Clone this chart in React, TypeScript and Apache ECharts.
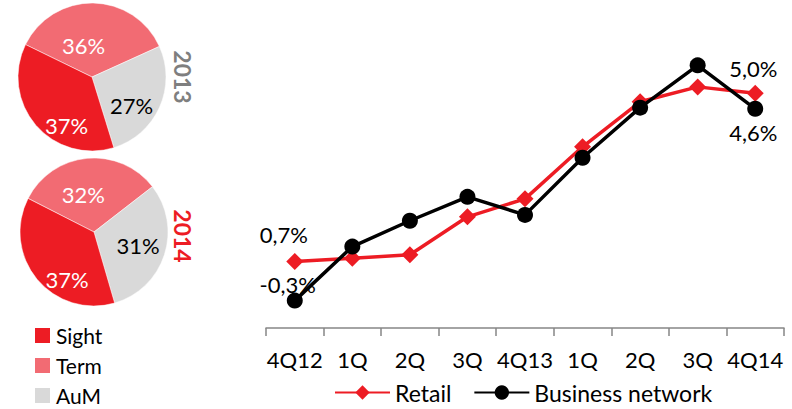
import React, { useEffect, useRef } from "react";
import * as echarts from "echarts";

// Quarterly growth, %
const quarters = ["4Q12", "1Q", "2Q", "3Q", "4Q13", "1Q", "2Q", "3Q", "4Q14"];
const retail = [0.7, 0.78, 0.87, 1.84, 2.3, 3.63, 4.78, 5.16, 5.0];
const businessNetwork = [-0.3, 1.08, 1.74, 2.35, 1.89, 3.35, 4.63, 5.71, 4.6];

// Funding mix, % (slices listed clockwise starting from the top-left edge)
const mixNames = ["Term", "AuM", "Sight"];
const mix2013 = [36, 27, 37];
const mix2014 = [32, 31, 37];
const mixColors: Record<string, string> = { Sight: "#ED1C24", Term: "#F26B73", AuM: "#D9D9D9" };
const mixLabelColors: Record<string, string> = { Sight: "#FFFFFF", Term: "#FFFFFF", AuM: "#000000" };

const FONT = "Lato, 'Open Sans', sans-serif";
const RED = "#ED1C24";

const fmt = (v: number) => v.toFixed(1).replace(".", ",") + "%";

function pieSeries(name: string, values: number[], center: number[], startAngle: number, shifts: number[][]) {
  return {
    type: "pie",
    name,
    center,
    radius: 74,
    startAngle,
    clockwise: true,
    silent: true,
    label: {
      show: true,
      position: "inside",
      fontFamily: FONT,
      fontSize: 22,
      formatter: (p: any) => p.value + "%",
    },
    labelLine: { show: false },
    labelLayout: (p: any) => ({ dx: shifts[p.dataIndex][0], dy: shifts[p.dataIndex][1] }),
    itemStyle: { borderColor: "#ffffff", borderWidth: 0.5 },
    data: values.map((v, i) => ({
      name: mixNames[i],
      value: v,
      itemStyle: { color: mixColors[mixNames[i]] },
      label: { color: mixLabelColors[mixNames[i]] },
    })),
  };
}

function lineData(values: number[], positions: string[], offsets: number[][]) {
  const last = values.length - 1;
  return values.map((v, i) => {
    const k = i === 0 ? 0 : i === last ? 1 : -1;
    return {
      value: v,
      label:
        k >= 0
          ? { show: true, position: positions[k], offset: offsets[k], formatter: () => fmt(v) }
          : { show: false },
    };
  });
}

export default function App() {
  const ref = useRef<HTMLDivElement>(null);

  useEffect(() => {
    if (!ref.current) return;
    const chart = echarts.init(ref.current, undefined, { renderer: "svg" });
    chart.setOption({
      animation: false,
      backgroundColor: "#ffffff",
      textStyle: { fontFamily: FONT },
      legend: [
        {
          orient: "vertical",
          left: 33,
          top: 325,
          height: 100,
          padding: 0,
          icon: "rect",
          itemWidth: 17,
          itemHeight: 17,
          itemGap: 9,
          selectedMode: false,
          textStyle: { fontFamily: FONT, fontSize: 21, lineHeight: 20, color: "#000" },
          data: ["Sight", "Term", "AuM"],
        },
        {
          left: 334,
          top: 381,
          padding: 0,
          itemWidth: 55,
          itemHeight: 18,
          itemGap: 22,
          selectedMode: false,
          textStyle: { fontFamily: FONT, fontSize: 23, lineHeight: 20, color: "#000" },
          data: ["Retail", "Business network"],
        },
      ],
      grid: { left: 266, right: 8, top: 54, bottom: 81 },
      xAxis: {
        type: "category",
        data: quarters,
        boundaryGap: true,
        axisLine: { onZero: false, lineStyle: { color: "#868686", width: 1.5 } },
        axisTick: { show: true, length: 8, lineStyle: { color: "#868686", width: 1.5 } },
        axisLabel: { color: "#000", fontSize: 22, fontFamily: FONT, margin: 20, interval: 0 },
      },
      yAxis: { type: "value", min: -1, max: 6, show: false, splitLine: { show: false } },
      series: [
        pieSeries("2013", mix2013, [92, 77], 154, [[-9, 8], [3, 12], [5, 22]]),
        pieSeries("2014", mix2014, [94, 232], 153, [[-7, 2], [6, 1], [4, 22]]),
        {
          type: "line",
          name: "Retail",
          z: 3,
          color: RED,
          symbol: "diamond",
          symbolSize: 17,
          lineStyle: { color: RED, width: 3.5 },
          itemStyle: { color: RED },
          label: { fontFamily: FONT, fontSize: 22, color: "#000" },
          data: lineData(retail, ["top", "top"], [[-11, -2], [-2, 0]]),
        },
        {
          type: "line",
          name: "Business network",
          z: 4,
          color: "#000",
          symbol: "circle",
          symbolSize: 16,
          lineStyle: { color: "#000", width: 3.5 },
          itemStyle: { color: "#000" },
          label: { fontFamily: FONT, fontSize: 22, color: "#000" },
          data: lineData(businessNetwork, ["top", "bottom"], [[-7, 8], [-2, 0]]),
        },
      ],
      graphic: [
        {
          type: "text",
          x: 183,
          y: 77,
          rotation: -Math.PI / 2,
          style: {
            text: "2013",
            fill: "#7F7F7F",
            font: `bold 23px ${FONT}`,
            align: "center",
            verticalAlign: "middle",
          },
        },
        {
          type: "text",
          x: 183,
          y: 236,
          rotation: -Math.PI / 2,
          style: {
            text: "2014",
            fill: RED,
            font: `bold 23px ${FONT}`,
            align: "center",
            verticalAlign: "middle",
          },
        },
      ],
    });
    return () => chart.dispose();
  }, []);

  return <div ref={ref} style={{ position: "fixed", left: 0, top: 0, width: 792, height: 409 }} />;
}
